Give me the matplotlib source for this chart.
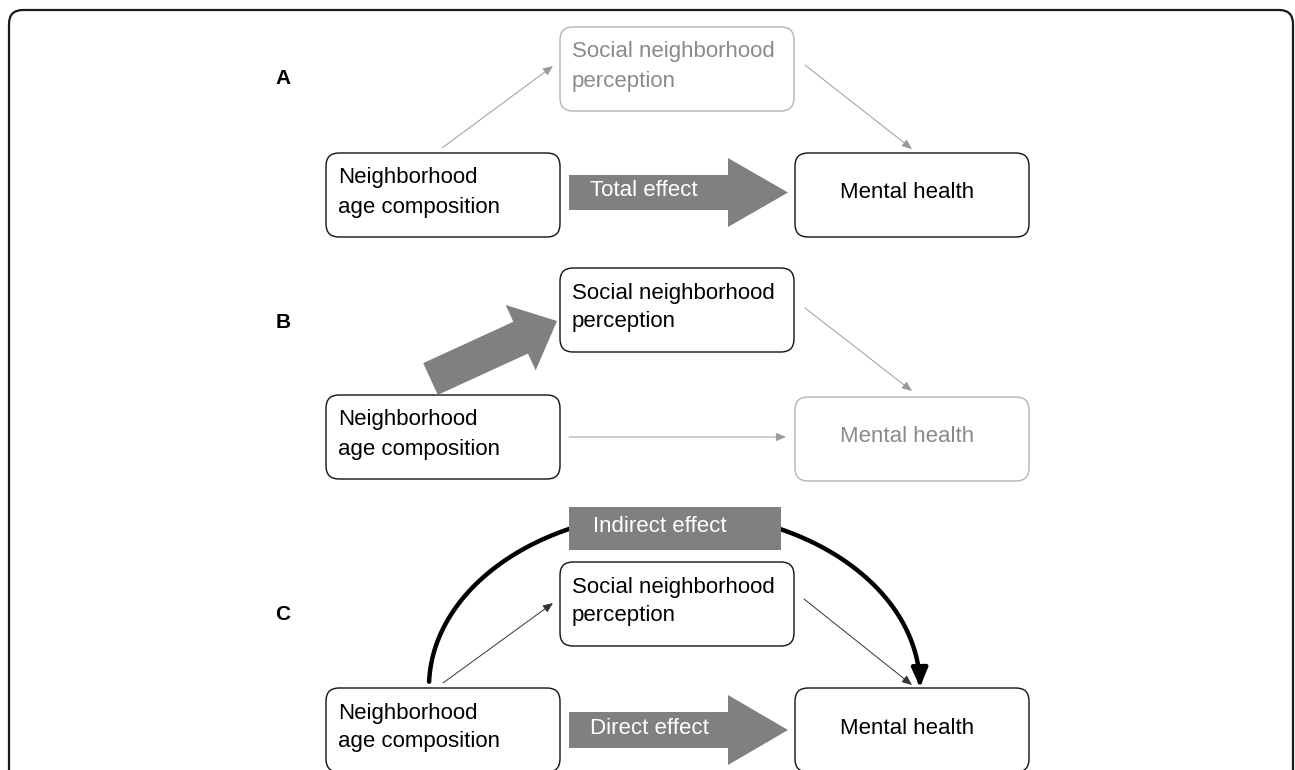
#!/usr/bin/env python3
"""Mediation diagram: neighborhood age composition -> perception -> mental health."""

import matplotlib

matplotlib.use("Agg")
import matplotlib.pyplot as plt  # noqa: E402
import numpy as np  # noqa: E402
from matplotlib.patches import FancyArrow, FancyArrowPatch, FancyBboxPatch, Rectangle  # noqa: E402
from matplotlib.path import Path  # noqa: E402

plt.rcParams["font.family"] = ["Liberation Sans", "DejaVu Sans"]

# content
PANELS = ["A", "B", "C"]
EXPOSURE_LINES = ["Neighborhood", "age composition"]
MEDIATOR_LINES = ["Social neighborhood", "perception"]
OUTCOME = "Mental health"
EFFECT_LABELS = ["Total effect", None, "Direct effect"]
INDIRECT_LABEL = "Indirect effect"
# which node is faded in each panel
FADED = [("mediator",), ("outcome",), ()]

# layout (pixel units, y grows downward)
W, H = 1295, 770
BOX_W, BOX_H = 234, 84
EXPOSURE_X, MEDIATOR_X, OUTCOME_X = 326, 560, 795
EXPOSURE_TOP = [153, 395, 688]
MEDIATOR_TOP = [27, 268, 562]
OUTCOME_TOP = [153, 397, 688]
LABEL_Y = [79, 323, 615]

BLACK = "#111111"
FADE_TEXT = "#8a8a8a"
FADE_EDGE = "#b4b4b4"
ARROW_GRAY = "#808080"
THIN_GRAY = "#9a9a9a"


def node(ax, x, top, lines, faded, centered=False):
    edge = FADE_EDGE if faded else BLACK
    text = FADE_TEXT if faded else "black"
    ax.add_patch(FancyBboxPatch((x, top), BOX_W, BOX_H,
                                boxstyle="round,pad=0,rounding_size=13",
                                fc="white", ec=edge, lw=1.0, zorder=3))
    if centered:
        ax.text(x + BOX_W / 2 - 5, top + 40, lines[0], ha="center", va="center",
                fontsize=16, color=text, zorder=4)
        return
    for offset, line in zip([25, 54], lines):
        ax.text(x + 12, top + offset, line, ha="left", va="center",
                fontsize=16, color=text, zorder=4)


def thin_arrow(ax, start, end, color, lw=0.7):
    ax.add_patch(FancyArrowPatch(start, end, arrowstyle="-|>,head_length=0.6,head_width=0.25",
                                 mutation_scale=10, color=color, lw=lw,
                                 shrinkA=0, shrinkB=0, zorder=2))


fig = plt.figure(figsize=(W / 100, H / 100), dpi=100)
ax = fig.add_axes([0, 0, 1, 1])
ax.set_xlim(0, W)
ax.set_ylim(H, 0)
ax.axis("off")

# outer frame, cut off at the bottom like the source
ax.add_patch(FancyBboxPatch((9, 10), 1284, 800, boxstyle="round,pad=0,rounding_size=14",
                            fc="none", ec="#1a1a1a", lw=1.6, zorder=1))

for i, panel in enumerate(PANELS):
    ax.text(283, LABEL_Y[i], panel, ha="center", va="center", fontsize=15,
            fontweight="bold", color="black")
    node(ax, EXPOSURE_X, EXPOSURE_TOP[i], EXPOSURE_LINES, False)
    node(ax, MEDIATOR_X, MEDIATOR_TOP[i], MEDIATOR_LINES, "mediator" in FADED[i])
    node(ax, OUTCOME_X, OUTCOME_TOP[i], [OUTCOME], "outcome" in FADED[i], centered=True)

# panel A: total effect
mid_a = EXPOSURE_TOP[0] + 39.5
ax.add_patch(FancyArrow(569, mid_a, 219, 0, width=35, head_width=69, head_length=60,
                        length_includes_head=True, fc=ARROW_GRAY, ec="none", zorder=3))
ax.text(590, mid_a - 2, EFFECT_LABELS[0], ha="left", va="center", fontsize=16,
        color="white", zorder=4)
thin_arrow(ax, (442, 148), (553, 66), THIN_GRAY)
thin_arrow(ax, (805, 65), (912, 149), THIN_GRAY)

# panel B: a-path
ax.add_patch(FancyArrow(430.5, 379, 126.5, -58, width=35, head_width=72, head_length=40,
                        length_includes_head=True, fc=ARROW_GRAY, ec="none", zorder=3))
thin_arrow(ax, (805, 308), (912, 391), THIN_GRAY)
thin_arrow(ax, (569, 437), (786, 437), THIN_GRAY)

# panel C: direct + indirect effects
mid_c = 730
ax.add_patch(FancyArrow(569, mid_c, 219, 0, width=36, head_width=70, head_length=60,
                        length_includes_head=True, fc=ARROW_GRAY, ec="none", zorder=3))
ax.text(590, mid_c - 2, EFFECT_LABELS[2], ha="left", va="center", fontsize=16,
        color="white", zorder=4)
thin_arrow(ax, (443, 683), (553, 603), "#333333")
thin_arrow(ax, (804, 599), (912, 685), "#333333")

theta = np.linspace(np.pi - 0.03, 0, 120)
arc = np.column_stack([674.5 + 245.5 * np.cos(theta), 687 - 175 * np.sin(theta)])
ax.add_patch(FancyArrowPatch(path=Path(arc), arrowstyle="-|>,head_length=0.55,head_width=0.24",
                             mutation_scale=20, color="black", lw=3.2, zorder=2))
ax.add_patch(Rectangle((569, 507), 212, 43, fc=ARROW_GRAY, ec="none", zorder=3))
ax.text(593, 526, INDIRECT_LABEL, ha="left", va="center", fontsize=16,
        color="white", zorder=4)

fig.savefig("out.png", dpi=100, facecolor="white")
plt.close(fig)
